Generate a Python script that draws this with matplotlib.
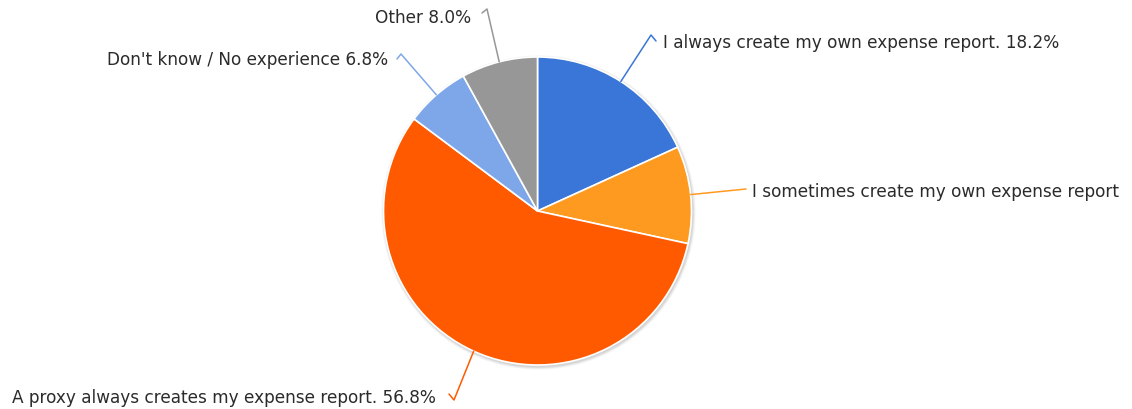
import numpy as np
import matplotlib.pyplot as plt
from matplotlib.patches import Circle

plt.rcParams['font.family'] = ['DejaVu Sans']

labels = [
    'I always create my own expense report.',
    'I sometimes create my own expense report',
    'A proxy always creates my expense report.',
    "Don't know / No experience",
    'Other',
]
shares = [18.2, 10.2, 56.8, 6.8, 8.0]
show_pct = [True, False, True, True, True]
colors = ['#3a76d8', '#ff9a20', '#ff5a00', '#7ea7e9', '#979797']

W, H = 1132, 410
fig = plt.figure(figsize=(W / 100, H / 100), dpi=100)
ax = fig.add_axes([0, 0, 1, 1])
ax.set_xlim(0, W)
ax.set_ylim(0, H)
ax.set_aspect('equal')
ax.axis('off')

cx, cy, r = 537.5, H - 212, 154

# soft drop shadow under the pie
for i, a in enumerate([0.05, 0.05, 0.04, 0.03]):
    ax.add_patch(Circle((cx + 1, cy - 1.5), r + 0.8 + i * 0.8, color='#000000',
                        alpha=a, lw=0, zorder=0))

wedges, _ = ax.pie(shares, colors=colors, startangle=90, counterclock=False,
                   center=(cx, cy), radius=r,
                   wedgeprops=dict(edgecolor='white', linewidth=1.2))
ax.set_xlim(0, W)
ax.set_ylim(0, H)

# leader end points in pixel coords (y down) and text alignment
anchors = [
    ((651, 36), 'left'),
    ((746, 190), 'left'),
    ((454, 401), 'right'),
    ((401, 55), 'right'),
    ((487, 10), 'right'),
]
hooks = [(5, 6), (0, 0), (-5, -6), (-4, 5), (-5, 4)]
text_off = [(12, 7), (6, 2), (-18, -3), (-13, 5), (-16, 8)]

for w, lab, pct, val, col, (anc, side), hk, off in zip(
        wedges, labels, show_pct, shares, colors, anchors, hooks, text_off):
    mid = np.deg2rad((w.theta1 + w.theta2) / 2)
    x0, y0 = cx + r * np.cos(mid), cy + r * np.sin(mid)
    x1, y1 = anc[0], H - anc[1]
    xs, ys = [x0, x1], [y0, y1]
    if hk != (0, 0):
        xs.append(x1 + hk[0])
        ys.append(y1 - hk[1])
    ax.plot(xs, ys, color=col, lw=1.1, solid_capstyle='round', zorder=3)
    txt = f'{lab} {val:.1f}%' if pct else lab
    ax.text(x1 + off[0], y1 - off[1], txt, ha=side, va='center',
            fontsize=12.2, color='#2b2b2b')

fig.savefig('out.png', dpi=100)
